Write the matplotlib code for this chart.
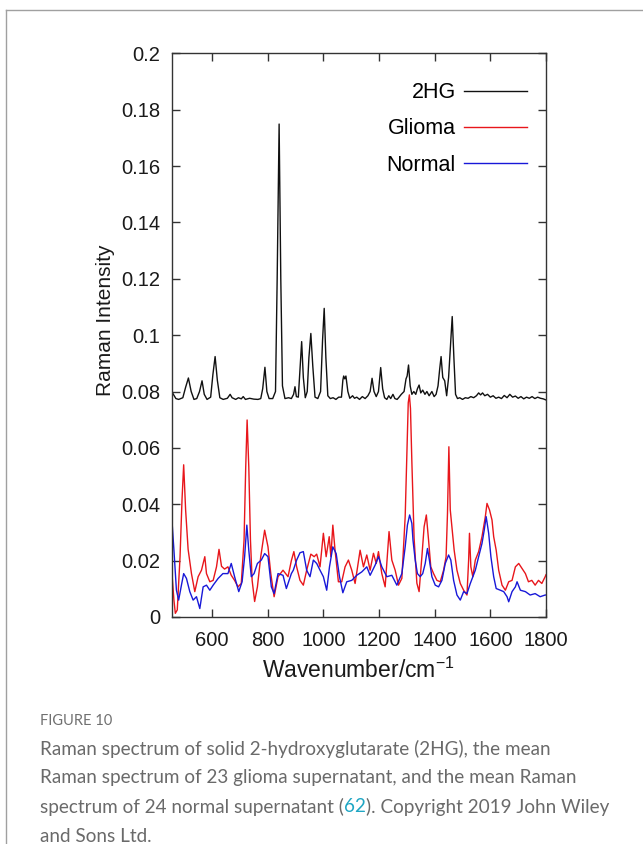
import matplotlib
matplotlib.use("Agg")
import matplotlib.pyplot as plt
from matplotlib.lines import Line2D

plt.rcParams["font.family"] = ["Liberation Sans", "DejaVu Sans"]

# ---- data ----
HG_X = [455, 470, 480, 495, 505, 515, 525, 535, 545, 555, 564, 572, 582, 595, 603, 611, 619, 628,
        640, 655, 665, 672, 685, 695, 705, 712, 720, 735, 750, 765, 775, 782, 790, 797, 805, 818,
        828, 834, 841, 847, 853, 862, 875, 885, 893, 898, 903, 910, 916, 922, 928, 935, 942, 948,
        955, 962, 970, 980, 990, 997, 1003, 1009, 1016, 1025, 1035, 1045, 1055, 1065, 1070, 1073,
        1077, 1081, 1088, 1095, 1105, 1112, 1120, 1130, 1140, 1150, 1160, 1168, 1175, 1182, 1190,
        1198, 1206, 1213, 1220, 1228, 1235, 1242, 1250, 1257, 1265, 1272, 1280, 1290, 1297, 1301,
        1306, 1312, 1318, 1325, 1332, 1338, 1344, 1350, 1357, 1365, 1372, 1380, 1390, 1398, 1405,
        1412, 1418, 1423, 1429, 1436, 1443, 1450, 1456, 1463, 1469, 1475, 1482, 1490, 1500, 1510,
        1520, 1530, 1540, 1550, 1558, 1565, 1572, 1580, 1590, 1600, 1610, 1620, 1630, 1640, 1650,
        1660, 1670, 1680, 1690, 1700, 1710, 1720, 1730, 1740, 1750, 1760, 1770, 1780, 1790, 1800]
HG_Y = [0.0800, 0.0775, 0.0772, 0.0778, 0.0815, 0.0848, 0.0800, 0.0772, 0.0775, 0.0800, 0.0838,
        0.0790, 0.0772, 0.0780, 0.0860, 0.0924, 0.0840, 0.0778, 0.0772, 0.0776, 0.0790, 0.0778,
        0.0772, 0.0778, 0.0774, 0.0782, 0.0772, 0.0776, 0.0773, 0.0772, 0.0775, 0.0810, 0.0886,
        0.0800, 0.0775, 0.0775, 0.0800, 0.1200, 0.1749, 0.1200, 0.0820, 0.0775, 0.0778, 0.0775,
        0.0790, 0.0817, 0.0782, 0.0780, 0.0880, 0.0977, 0.0850, 0.0778, 0.0800, 0.0920, 0.1006,
        0.0890, 0.0780, 0.0775, 0.0800, 0.0980, 0.1095, 0.0920, 0.0785, 0.0775, 0.0778, 0.0772,
        0.0780, 0.0780, 0.0840, 0.0855, 0.0845, 0.0855, 0.0800, 0.0776, 0.0785, 0.0776, 0.0780,
        0.0772, 0.0782, 0.0775, 0.0785, 0.0800, 0.0847, 0.0800, 0.0782, 0.0800, 0.0885, 0.0810,
        0.0778, 0.0772, 0.0785, 0.0775, 0.0790, 0.0775, 0.0772, 0.0780, 0.0790, 0.0800, 0.0845,
        0.0855, 0.0894, 0.0820, 0.0790, 0.0800, 0.0790, 0.0810, 0.0823, 0.0795, 0.0805, 0.0790,
        0.0800, 0.0785, 0.0800, 0.0782, 0.0790, 0.0820, 0.0880, 0.0924, 0.0850, 0.0838, 0.0785,
        0.0850, 0.0950, 0.1066, 0.0920, 0.0790, 0.0775, 0.0778, 0.0772, 0.0778, 0.0776, 0.0782,
        0.0778, 0.0785, 0.0795, 0.0788, 0.0795, 0.0785, 0.0790, 0.0780, 0.0785, 0.0776, 0.0780,
        0.0775, 0.0786, 0.0778, 0.0790, 0.0780, 0.0784, 0.0776, 0.0782, 0.0774, 0.0780, 0.0776,
        0.0782, 0.0775, 0.0780, 0.0776, 0.0774, 0.0770]

GLIOMA_X = [455, 463, 468, 475, 485, 492, 498, 505, 514, 526, 538, 550, 562, 574, 580, 592, 604,
            616, 625, 634, 645, 657, 669, 681, 693, 705, 715, 721, 726, 732, 738, 744, 753, 763,
            775, 789, 801, 811, 823, 837, 855, 873, 885, 894, 904, 916, 928, 940, 955, 967, 976,
            988, 1000, 1010, 1021, 1027, 1034, 1042, 1054, 1066, 1078, 1090, 1102, 1114, 1132,
            1144, 1156, 1168, 1180, 1190, 1198, 1210, 1222, 1236, 1246, 1258, 1270, 1282, 1294,
            1300, 1305, 1309, 1313, 1318, 1326, 1336, 1344, 1354, 1362, 1370, 1378, 1386, 1396,
            1408, 1420, 1432, 1441, 1446, 1451, 1456, 1462, 1470, 1480, 1492, 1504, 1516, 1522,
            1525, 1530, 1537, 1546, 1558, 1570, 1582, 1588, 1597, 1606, 1612, 1621, 1630, 1642,
            1654, 1666, 1678, 1690, 1702, 1714, 1726, 1737, 1749, 1761, 1773, 1785, 1797, 1800]
GLIOMA_Y = [0.0166, 0.0060, 0.0013, 0.0025, 0.0214, 0.0415, 0.0540, 0.0380, 0.0240, 0.0154,
            0.0090, 0.0143, 0.0166, 0.0214, 0.0154, 0.0125, 0.0130, 0.0178, 0.0240, 0.0180,
            0.0170, 0.0178, 0.0148, 0.0130, 0.0107, 0.0119, 0.0273, 0.0533, 0.0699, 0.0533,
            0.0273, 0.0130, 0.0055, 0.0107, 0.0214, 0.0308, 0.0249, 0.0154, 0.0072, 0.0143,
            0.0166, 0.0143, 0.0200, 0.0232, 0.0178, 0.0130, 0.0113, 0.0166, 0.0223, 0.0214,
            0.0223, 0.0178, 0.0297, 0.0214, 0.0285, 0.0214, 0.0326, 0.0237, 0.0125, 0.0125,
            0.0178, 0.0202, 0.0166, 0.0119, 0.0237, 0.0178, 0.0220, 0.0166, 0.0226, 0.0190,
            0.0232, 0.0154, 0.0107, 0.0303, 0.0202, 0.0166, 0.0113, 0.0137, 0.0356, 0.0580,
            0.0760, 0.0788, 0.0740, 0.0550, 0.0280, 0.0120, 0.0090, 0.0214, 0.0320, 0.0362,
            0.0273, 0.0178, 0.0154, 0.0130, 0.0125, 0.0166, 0.0214, 0.0368, 0.0604, 0.0380,
            0.0320, 0.0237, 0.0166, 0.0119, 0.0095, 0.0078, 0.0202, 0.0297, 0.0178, 0.0143,
            0.0202, 0.0232, 0.0285, 0.0356, 0.0403, 0.0380, 0.0344, 0.0285, 0.0237, 0.0166,
            0.0113, 0.0095, 0.0125, 0.0130, 0.0178, 0.0190, 0.0172, 0.0154, 0.0125, 0.0130,
            0.0113, 0.0130, 0.0119, 0.0143, 0.0150]

NORMAL_X = [455, 463, 472, 480, 490, 498, 508, 520, 532, 544, 556, 568, 580, 592, 604, 622, 639,
            657, 669, 681, 696, 708, 717, 725, 732, 741, 751, 763, 777, 789, 801, 813, 823, 837,
            855, 867, 885, 892, 904, 916, 928, 940, 952, 964, 976, 988, 1000, 1012, 1022, 1034,
            1046, 1058, 1070, 1084, 1102, 1120, 1138, 1156, 1168, 1186, 1198, 1210, 1228, 1246,
            1264, 1282, 1294, 1302, 1310, 1318, 1322, 1330, 1338, 1348, 1357, 1366, 1374, 1381,
            1390, 1402, 1414, 1426, 1438, 1450, 1458, 1468, 1480, 1492, 1504, 1516, 1528, 1546,
            1558, 1570, 1578, 1585, 1594, 1602, 1612, 1621, 1636, 1648, 1660, 1666, 1678, 1690,
            1696, 1708, 1726, 1743, 1761, 1779, 1797, 1800]
NORMAL_Y = [0.0356, 0.0237, 0.0095, 0.0060, 0.0113, 0.0154, 0.0137, 0.0090, 0.0060, 0.0072,
            0.0030, 0.0107, 0.0113, 0.0095, 0.0113, 0.0137, 0.0154, 0.0154, 0.0190, 0.0143,
            0.0090, 0.0125, 0.0214, 0.0326, 0.0237, 0.0143, 0.0154, 0.0190, 0.0202, 0.0225,
            0.0214, 0.0107, 0.0083, 0.0154, 0.0148, 0.0101, 0.0154, 0.0166, 0.0202, 0.0228,
            0.0232, 0.0166, 0.0143, 0.0202, 0.0190, 0.0166, 0.0143, 0.0095, 0.0178, 0.0249,
            0.0225, 0.0143, 0.0086, 0.0125, 0.0130, 0.0148, 0.0160, 0.0178, 0.0148, 0.0184,
            0.0214, 0.0178, 0.0143, 0.0148, 0.0113, 0.0154, 0.0249, 0.0326, 0.0362, 0.0332,
            0.0273, 0.0202, 0.0154, 0.0143, 0.0154, 0.0190, 0.0243, 0.0202, 0.0143, 0.0113,
            0.0107, 0.0130, 0.0190, 0.0220, 0.0202, 0.0130, 0.0078, 0.0060, 0.0090, 0.0083,
            0.0119, 0.0166, 0.0214, 0.0261, 0.0308, 0.0356, 0.0297, 0.0214, 0.0143, 0.0101,
            0.0095, 0.0090, 0.0072, 0.0054, 0.0090, 0.0107, 0.0125, 0.0095, 0.0090, 0.0078,
            0.0083, 0.0072, 0.0078, 0.0078]

SERIES_NAMES = ["2HG", "Glioma", "Normal"]
X_TICKS = [600, 800, 1000, 1200, 1400, 1600, 1800]
Y_TICKS = [0, 0.02, 0.04, 0.06, 0.08, 0.1, 0.12, 0.14, 0.16, 0.18, 0.2]
Y_TICK_LABELS = ["0", "0.02", "0.04", "0.06", "0.08", "0.1", "0.12", "0.14", "0.16", "0.18", "0.2"]

CAPTION_HEAD = "FIGURE 10"
CAPTION_LINES = [
    "Raman spectrum of solid 2-hydroxyglutarate (2HG), the mean",
    "Raman spectrum of 23 glioma supernatant, and the mean Raman",
    ["spectrum of 24 normal supernatant (", "62", "). Copyright 2019 John Wiley"],
    "and Sons Ltd.",
]

W, H = 643, 844
fig = plt.figure(figsize=(W / 100, H / 100), dpi=100)
fig.patch.set_facecolor("white")

# page frame (top and left rules)
fig.add_artist(Line2D([6 / W, 1], [1 - 10 / H, 1 - 10 / H], transform=fig.transFigure,
                      color="#a0a0a0", lw=1.0))
fig.add_artist(Line2D([6 / W, 6 / W], [0, 1 - 10 / H], transform=fig.transFigure,
                      color="#a0a0a0", lw=1.0))

ax = fig.add_axes([171.7 / W, 1 - 617 / H, (546 - 171.7) / W, (617 - 53.3) / H])
colors = ["#111111", "#e8161b", "#1818d8"]
for xs, ys, name, c in zip([HG_X, GLIOMA_X, NORMAL_X], [HG_Y, GLIOMA_Y, NORMAL_Y],
                           SERIES_NAMES, colors):
    ax.plot(xs, ys, color=c, lw=1.0, label=name)

ax.set_xlim(455, 1800)
ax.set_ylim(0, 0.2)
ax.set_xticks(X_TICKS)
ax.set_yticks(Y_TICKS)
ax.set_yticklabels(Y_TICK_LABELS)
ax.tick_params(direction="in", top=True, right=True, length=6, width=1,
               labelsize=14.5, labelcolor="#1a1a1a", color="#333333")
ax.tick_params(axis="x", pad=10)
ax.tick_params(axis="y", pad=8)
for sp in ax.spines.values():
    sp.set_color("#333333")
    sp.set_linewidth(1.0)

ax.set_xlabel("Wavenumber/cm$^{\\mathregular{-1}}$", fontsize=16.5, color="#1a1a1a")
ax.set_ylabel("Raman Intensity", fontsize=15, color="#1a1a1a")
ax.xaxis.set_label_coords(0.498, -0.073)
ax.yaxis.set_label_coords(-0.152, 0.527)

ax.legend(loc="upper right", bbox_to_anchor=(0.949, 0.949), frameon=False, markerfirst=False,
          fontsize=15.5, handlelength=2.9, handletextpad=0.4, labelspacing=0.71,
          borderpad=0, borderaxespad=0)

# caption
cap_font = ["Lato", "DejaVu Sans"]
cap_grey = "#6a6a6a"
fig.text(40 / W, 1 - 721 / H, CAPTION_HEAD, fontsize=10.5, color="#707070",
         family=cap_font, va="center")
renderer = fig.canvas.get_renderer()
for i, line in enumerate(CAPTION_LINES):
    y = 1 - (749 + i * 29) / H
    if isinstance(line, str):
        fig.text(40 / W, y, line, fontsize=13.6, color=cap_grey, family=cap_font,
                 va="center")
    else:
        x = 40 / W
        for j, part in enumerate(line):
            t = fig.text(x, y, part, fontsize=13.6, color="#1fa6c4" if j == 1 else cap_grey,
                         family=cap_font, va="center")
            x = t.get_window_extent(renderer).x1 / W

fig.savefig("out.png", dpi=100)
